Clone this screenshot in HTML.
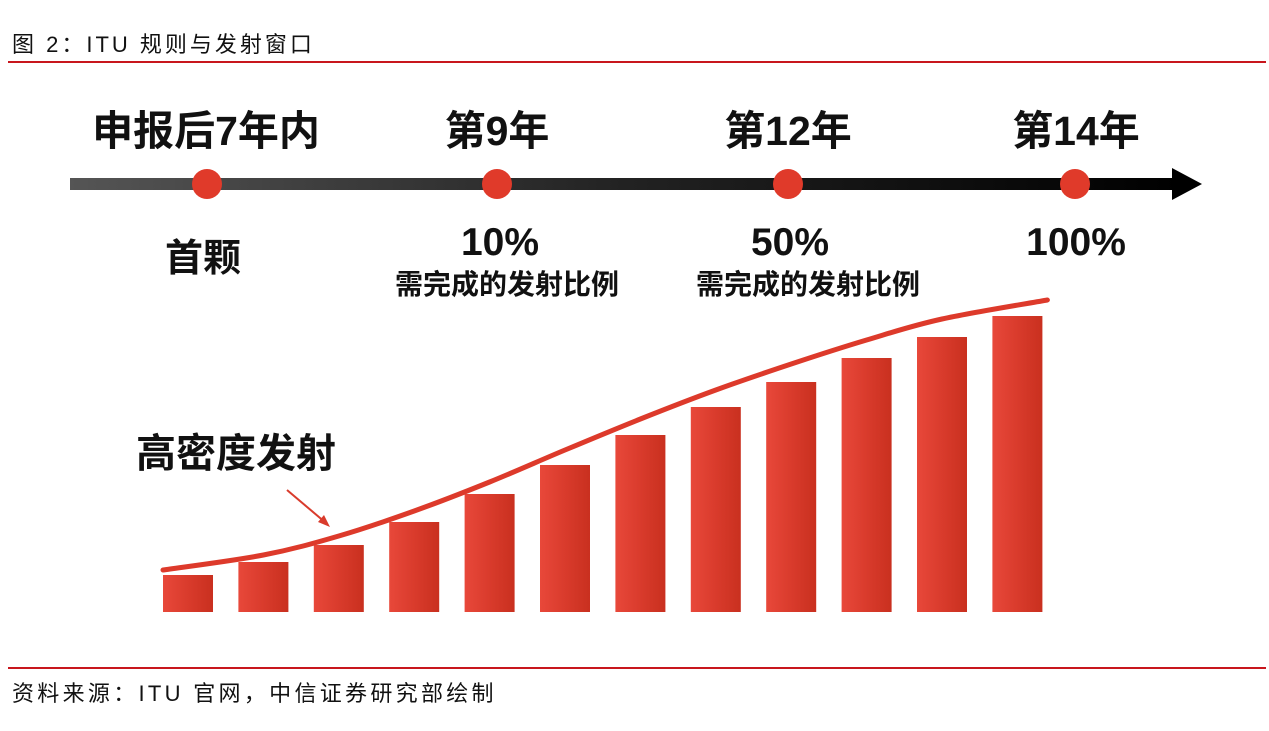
<!DOCTYPE html>
<html><head><meta charset="utf-8">
<style>
html,body{margin:0;padding:0;background:#fff;}
body{width:1269px;height:726px;overflow:hidden;font-family:"Liberation Sans","Noto Sans CJK SC",sans-serif;}
svg text{font-family:"Liberation Sans","Noto Sans CJK SC",sans-serif;}
</style></head>
<body>
<svg width="1269" height="726" viewBox="0 0 1269 726">
<defs>
<linearGradient id="lineg" x1="0" x2="1" y1="0" y2="0">
<stop offset="0" stop-color="#555"/><stop offset="0.5" stop-color="#222"/><stop offset="1" stop-color="#000"/>
</linearGradient>
<linearGradient id="barg" x1="0" x2="1" y1="0" y2="0">
<stop offset="0" stop-color="#e8483a"/><stop offset="0.5" stop-color="#d93b2c"/><stop offset="1" stop-color="#c9301f"/>
</linearGradient>
</defs>
<text x="12" y="52" font-size="22" letter-spacing="3" fill="#111">图 2：ITU 规则与发射窗口</text>
<rect x="8" y="61" width="1258" height="2" fill="#c8161d"/>

<g>
<rect x="70" y="178" width="1110" height="12" fill="url(#lineg)"/>
<polygon points="1172,168 1202,184 1172,200" fill="#000"/>
<circle cx="207" cy="184" r="15" fill="#e03a2a"/>
<circle cx="497" cy="184" r="15" fill="#e03a2a"/>
<circle cx="788" cy="184" r="15" fill="#e03a2a"/>
<circle cx="1075" cy="184" r="15" fill="#e03a2a"/>
<g font-weight="bold" font-size="41" fill="#111" text-anchor="middle">
<text x="206" y="145">申报后7年内</text>
<text x="497" y="145">第9年</text>
<text x="788" y="145">第12年</text>
<text x="1076" y="145">第14年</text>
<text x="203" y="271" font-size="38">首颗</text>
<text x="500" y="255" font-size="39">10%</text>
<text x="790" y="255" font-size="39">50%</text>
<text x="1076" y="255" font-size="39">100%</text>
<text x="507" y="294" font-size="28">需完成的发射比例</text>
<text x="808" y="294" font-size="28">需完成的发射比例</text>
</g>
</g>

<text x="236" y="467" font-size="40" font-weight="bold" fill="#111" text-anchor="middle">高密度发射</text>
<line x1="287" y1="490" x2="326" y2="523" stroke="#d93b2c" stroke-width="2"/>
<polygon points="330,527 318,522 324,515" fill="#d93b2c"/>

<g id="bars"></g>
<path id="curve" fill="none" stroke="#dd3a2b" stroke-width="5" stroke-linecap="round"/>

<rect x="8" y="667" width="1258" height="2" fill="#c8161d"/>
<text x="12" y="701" font-size="22" letter-spacing="3.3" fill="#111">资料来源：ITU 官网，中信证券研究部绘制</text>
</svg>
<script>
const categories = [1,2,3,4,5,6,7,8,9,10,11,12];
const barValues = [37,50,67,90,118,147,177,205,230,254,275,296];
const curveValues = [42,57,76,101,130,162,193,222,248,272,293,312];

const baseY = 612, x0 = 163, step = 75.4, barW = 50;
function xPos(i){ return x0 + i*step; }
function yPos(v){ return baseY - v; }

const g = document.getElementById('bars');
const ns = 'http://www.w3.org/2000/svg';
categories.forEach((c,i)=>{
  const r = document.createElementNS(ns,'rect');
  r.setAttribute('x', xPos(i));
  r.setAttribute('y', yPos(barValues[i]));
  r.setAttribute('width', barW);
  r.setAttribute('height', barValues[i]);
  r.setAttribute('fill', 'url(#barg)');
  
  
  g.appendChild(r);
});
const pts = curveValues.map((v,i)=>[xPos(i)+ (i===0?0:barW/2) + (i===categories.length-1?barW/2+5:0), yPos(v)]);
let d = 'M'+pts[0][0]+','+pts[0][1];
for(let i=0;i<pts.length-1;i++){
  const p0 = pts[i-1]||pts[i], p1=pts[i], p2=pts[i+1], p3=pts[i+2]||p2;
  const c1=[p1[0]+(p2[0]-p0[0])/6, p1[1]+(p2[1]-p0[1])/6];
  const c2=[p2[0]-(p3[0]-p1[0])/6, p2[1]-(p3[1]-p1[1])/6];
  d += ' C'+c1[0]+','+c1[1]+' '+c2[0]+','+c2[1]+' '+p2[0]+','+p2[1];
}
document.getElementById('curve').setAttribute('d', d);
</script>
</body></html>
